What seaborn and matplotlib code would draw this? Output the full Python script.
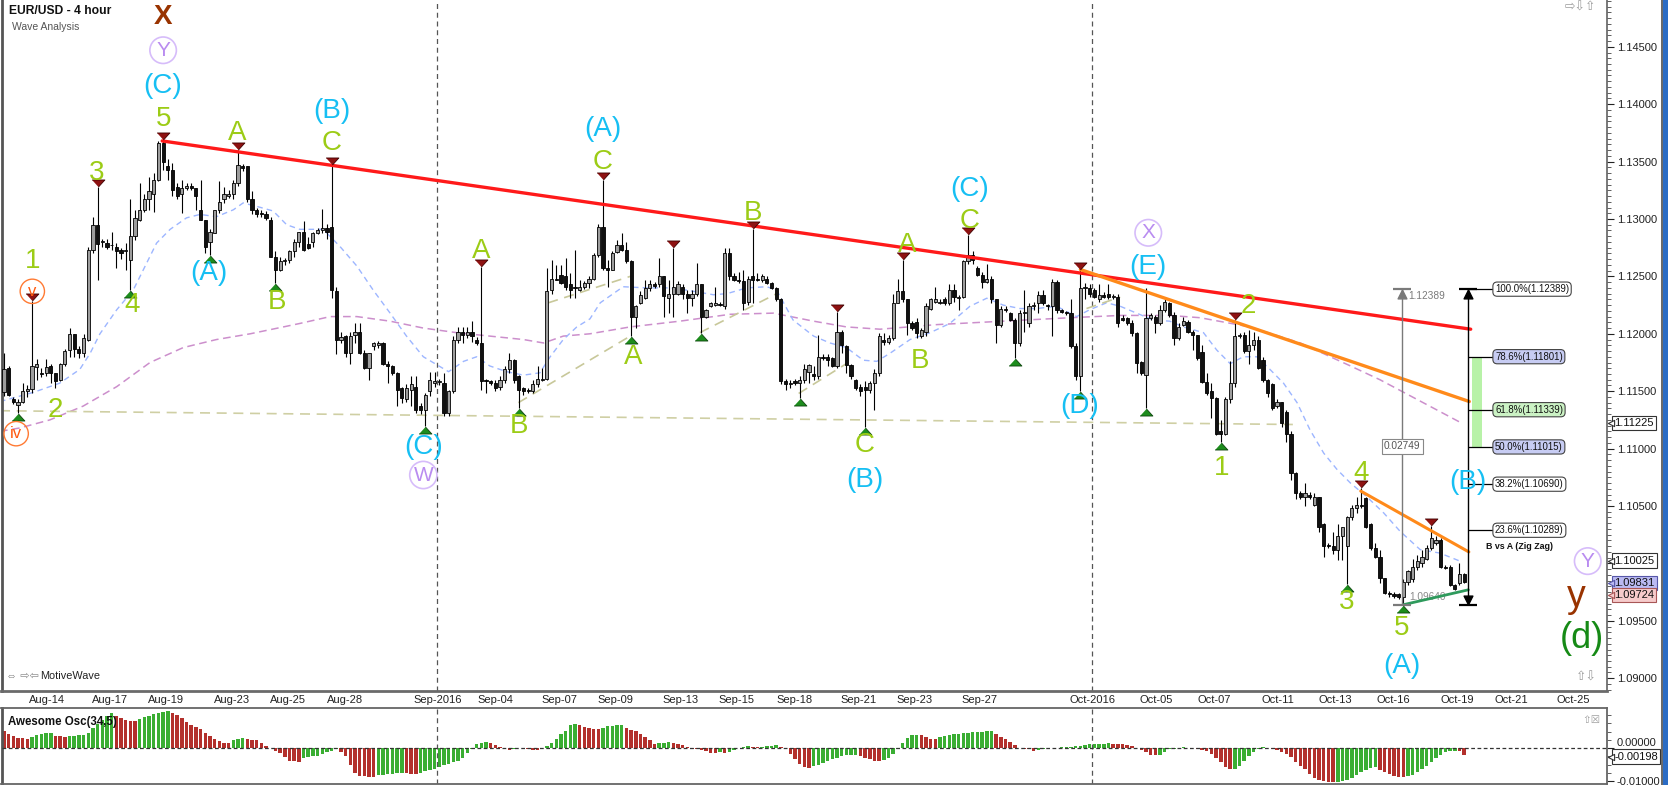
"""
EUR/USD 4 hour wave analysis chart, rebuilt with matplotlib + seaborn.
Candles, moving averages, Elliott wave labels, fib projection and
the Awesome Oscillator panel underneath.
"""

import numpy as np
import pandas as pd
import matplotlib
matplotlib.use("Agg")
import matplotlib.pyplot as plt
import matplotlib.transforms as mtransforms
from matplotlib.patches import Rectangle
from matplotlib.ticker import MultipleLocator
import seaborn as sns

sns.set_theme(style="white")
plt.rcParams["font.family"] = ["Liberation Sans", "DejaVu Sans"]

# ---------------------------------------------------------------- candles
opens = [
    1.1149, 1.1170, 1.1143, 1.1138, 1.1141, 1.1150, 1.1152, 1.1171, 1.1166, 1.1166,
    1.1172, 1.1166, 1.1160, 1.1174, 1.1186, 1.1200, 1.1187, 1.1183, 1.1195, 1.1273,
    1.1295, 1.1280, 1.1279, 1.1277, 1.1276, 1.1273, 1.1272, 1.1264, 1.1285, 1.1299,
    1.1308, 1.1317, 1.1322, 1.1334, 1.1366, 1.1346, 1.1343, 1.1328, 1.1322, 1.1327,
    1.1329, 1.1327, 1.1308, 1.1299, 1.1280, 1.1288, 1.1308, 1.1317, 1.1320, 1.1322,
    1.1331, 1.1346, 1.1346, 1.1317, 1.1308, 1.1305, 1.1304, 1.1299, 1.1267, 1.1256,
    1.1263, 1.1264, 1.1272, 1.1280,
    1.1289, 1.1278, 1.1280, 1.1288, 1.1290, 1.1292, 1.1293, 1.1237, 1.1195, 1.1198,
    1.1183, 1.1199, 1.1202, 1.1183, 1.1170, 1.1189, 1.1190, 1.1192, 1.1174, 1.1172,
    1.1166, 1.1153, 1.1143, 1.1151, 1.1154, 1.1137, 1.1134, 1.1150, 1.1157, 1.1158,
    1.1157, 1.1131, 1.1150, 1.1195, 1.1202, 1.1199, 1.1202, 1.1195, 1.1192, 1.1160,
    1.1159, 1.1157, 1.1154, 1.1160, 1.1169, 1.1177, 1.1163, 1.1153, 1.1151, 1.1150,
    1.1156, 1.1160, 1.1161, 1.1238, 1.1248, 1.1251, 1.1250, 1.1243, 1.1241, 1.1238, 1.1241, 1.1244,
    1.1248, 1.1269, 1.1293, 1.1257, 1.1256, 1.1271, 1.1277, 1.1273, 1.1263, 1.1215,
    1.1227, 1.1231, 1.1240, 1.1243, 1.1243, 1.1250, 1.1231, 1.1235, 1.1235, 1.1241,
    1.1235, 1.1231, 1.1235, 1.1243, 1.1215, 1.1224, 1.1225, 1.1226, 1.1224, 1.1270,
    1.1250, 1.1247, 1.1246, 1.1228, 1.1250, 1.1248, 1.1247, 1.1248, 1.1244, 1.1240,
    1.1230, 1.1159, 1.1156, 1.1159, 1.1157, 1.1160, 1.1167, 1.1165, 1.1163, 1.1180,
    1.1180, 1.1179, 1.1172, 1.1202, 1.1189, 1.1173, 1.1160, 1.1154, 1.1154, 1.1151, 1.1157, 1.1166,
    1.1195, 1.1193, 1.1196, 1.1227, 1.1237, 1.1230, 1.1209, 1.1210, 1.1198, 1.1202,
    1.1222, 1.1228, 1.1227, 1.1230, 1.1227, 1.1238, 1.1231, 1.1232, 1.1263, 1.1269,
    1.1257, 1.1251, 1.1245, 1.1248, 1.1230, 1.1208, 1.1222, 1.1218, 1.1212, 1.1192,
    1.1218, 1.1209, 1.1224, 1.1227, 1.1234, 1.1225, 1.1224, 1.1245, 1.1221, 1.1219,
    1.1218, 1.1189, 1.1163, 1.1240, 1.1240, 1.1238, 1.1230, 1.1234, 1.1235, 1.1232,
    1.1232, 1.1214, 1.1214, 1.1209, 1.1201, 1.1175, 1.1164, 1.1214, 1.1215, 1.1209, 1.1221, 1.1227,
    1.1216, 1.1196, 1.1208, 1.1210, 1.1202, 1.1199, 1.1184, 1.1158, 1.1150, 1.1144,
    1.1115, 1.1113, 1.1143, 1.1157, 1.1198, 1.1199, 1.1185, 1.1190, 1.1195, 1.1177,
    1.1160, 1.1156, 1.1137, 1.1141, 1.1132, 1.1113, 1.1079, 1.1061, 1.1058, 1.1060,
    1.1051, 1.1058, 1.1034, 1.1016, 1.1015, 1.1012, 1.1024, 1.1015, 1.1040, 1.1048,
    1.1051, 1.1057, 1.1034, 1.1013, 1.1006, 1.0987, 1.0974, 1.0973, 1.0973,
    1.0971, 1.0984, 1.0986, 1.0997, 1.1000, 1.1004, 1.1013, 1.1018, 1.1020, 1.0997,
    1.0997, 1.0981, 1.0983, 1.0991,
]
highs = [
    1.1183, 1.1172, 1.1145, 1.1143, 1.1157, 1.1155, 1.1229, 1.1178, 1.1170, 1.1178,
    1.1174, 1.1166, 1.1175, 1.1187, 1.1205, 1.1200, 1.1189, 1.1200, 1.1276, 1.1302,
    1.1328, 1.1283, 1.1283, 1.1289, 1.1279, 1.1275, 1.1279, 1.1317, 1.1308, 1.1331,
    1.1322, 1.1337, 1.1340, 1.1368, 1.1369, 1.1352, 1.1349, 1.1331, 1.1334, 1.1331,
    1.1331, 1.1327, 1.1334, 1.1299, 1.1291, 1.1308, 1.1333, 1.1328, 1.1325, 1.1334,
    1.1360, 1.1348, 1.1346, 1.1324, 1.1310, 1.1308, 1.1307, 1.1302, 1.1272, 1.1267,
    1.1266, 1.1273, 1.1283, 1.1289,
    1.1298, 1.1284, 1.1289, 1.1292, 1.1309, 1.1296, 1.1347, 1.1241, 1.1202, 1.1199,
    1.1202, 1.1209, 1.1209, 1.1186, 1.1183, 1.1193, 1.1194, 1.1193, 1.1176, 1.1173,
    1.1167, 1.1154, 1.1156, 1.1163, 1.1163, 1.1140, 1.1148, 1.1167, 1.1167, 1.1161,
    1.1166, 1.1151, 1.1198, 1.1206, 1.1206, 1.1206, 1.1211, 1.1197, 1.1258, 1.1161,
    1.1160, 1.1160, 1.1163, 1.1172, 1.1183, 1.1178, 1.1164, 1.1154, 1.1153, 1.1160,
    1.1172, 1.1170, 1.1257, 1.1264, 1.1260, 1.1260, 1.1266, 1.1253, 1.1273, 1.1247, 1.1246, 1.1250,
    1.1270, 1.1296, 1.1334, 1.1264, 1.1272, 1.1282, 1.1288, 1.1280, 1.1264, 1.1225,
    1.1237, 1.1247, 1.1247, 1.1245, 1.1266, 1.1250, 1.1247, 1.1275, 1.1246, 1.1243,
    1.1238, 1.1238, 1.1262, 1.1243, 1.1222, 1.1228, 1.1241, 1.1228, 1.1275, 1.1275,
    1.1253, 1.1254, 1.1256, 1.1250, 1.1291, 1.1253, 1.1252, 1.1250, 1.1245, 1.1241,
    1.1231, 1.1161, 1.1160, 1.1161, 1.1163, 1.1174, 1.1174, 1.1172, 1.1199, 1.1182,
    1.1182, 1.1180, 1.1219, 1.1203, 1.1190, 1.1174, 1.1161, 1.1156, 1.1159, 1.1159, 1.1169, 1.1201,
    1.1201, 1.1199, 1.1235, 1.1248, 1.1264, 1.1230, 1.1211, 1.1214, 1.1205, 1.1227,
    1.1231, 1.1241, 1.1230, 1.1232, 1.1243, 1.1243, 1.1234, 1.1264, 1.1286, 1.1272,
    1.1259, 1.1254, 1.1261, 1.1250, 1.1230, 1.1224, 1.1224, 1.1219, 1.1214, 1.1221,
    1.1238, 1.1227, 1.1228, 1.1237, 1.1238, 1.1226, 1.1248, 1.1247, 1.1222, 1.1220,
    1.1230, 1.1192, 1.1256, 1.1244, 1.1243, 1.1240, 1.1243, 1.1236, 1.1243, 1.1235,
    1.1235, 1.1216, 1.1215, 1.1212, 1.1202, 1.1176, 1.1240, 1.1218, 1.1216, 1.1225, 1.1230, 1.1228,
    1.1219, 1.1209, 1.1215, 1.1212, 1.1203, 1.1199, 1.1190, 1.1166, 1.1157, 1.1145,
    1.1125, 1.1145, 1.1176, 1.1212, 1.1201, 1.1202, 1.1203, 1.1202, 1.1198, 1.1180,
    1.1161, 1.1157, 1.1143, 1.1141, 1.1134, 1.1115, 1.1080, 1.1063, 1.1070, 1.1062,
    1.1061, 1.1058, 1.1035, 1.1018, 1.1027, 1.1034, 1.1032, 1.1041, 1.1051, 1.1058,
    1.1066, 1.1058, 1.1035, 1.1018, 1.1012, 1.0987, 1.0976, 1.0975, 1.0974,
    1.0986, 1.0994, 1.1004, 1.1007, 1.1012, 1.1016, 1.1033, 1.1024, 1.1022, 1.0999,
    1.0999, 1.0982, 1.1000, 1.0992,
]
lows = [
    1.1146, 1.1146, 1.1139, 1.1131, 1.1140, 1.1145, 1.1148, 1.1160, 1.1162, 1.1163,
    1.1157, 1.1153, 1.1159, 1.1172, 1.1180, 1.1180, 1.1179, 1.1180, 1.1194, 1.1270,
    1.1247, 1.1276, 1.1274, 1.1273, 1.1257, 1.1265, 1.1256, 1.1238, 1.1282, 1.1298,
    1.1306, 1.1308, 1.1306, 1.1333, 1.1343, 1.1334, 1.1320, 1.1317, 1.1305, 1.1325,
    1.1325, 1.1308, 1.1299, 1.1270, 1.1269, 1.1288, 1.1305, 1.1314, 1.1318, 1.1317,
    1.1329, 1.1342, 1.1315, 1.1304, 1.1302, 1.1302, 1.1299, 1.1267, 1.1244, 1.1255,
    1.1260, 1.1262, 1.1267, 1.1276,
    1.1272, 1.1274, 1.1276, 1.1287, 1.1288, 1.1283, 1.1231, 1.1182, 1.1192, 1.1180,
    1.1174, 1.1192, 1.1182, 1.1169, 1.1160, 1.1186, 1.1188, 1.1173, 1.1157, 1.1164,
    1.1137, 1.1140, 1.1141, 1.1137, 1.1131, 1.1130, 1.1120, 1.1146, 1.1154, 1.1155,
    1.1128, 1.1128, 1.1148, 1.1192, 1.1192, 1.1196, 1.1193, 1.1190, 1.1151, 1.1148,
    1.1155, 1.1150, 1.1151, 1.1157, 1.1166, 1.1157, 1.1135, 1.1147, 1.1148, 1.1148,
    1.1154, 1.1159, 1.1160, 1.1235, 1.1247, 1.1243, 1.1238, 1.1231, 1.1231, 1.1237, 1.1239, 1.1240,
    1.1247, 1.1267, 1.1256, 1.1241, 1.1256, 1.1270, 1.1272, 1.1262, 1.1198, 1.1205,
    1.1226, 1.1230, 1.1237, 1.1240, 1.1241, 1.1215, 1.1218, 1.1215, 1.1234, 1.1230,
    1.1218, 1.1224, 1.1233, 1.1201, 1.1214, 1.1223, 1.1224, 1.1224, 1.1222, 1.1247,
    1.1246, 1.1244, 1.1221, 1.1225, 1.1227, 1.1246, 1.1245, 1.1243, 1.1239, 1.1229,
    1.1156, 1.1151, 1.1153, 1.1155, 1.1144, 1.1157, 1.1157, 1.1160, 1.1161, 1.1177,
    1.1172, 1.1171, 1.1170, 1.1183, 1.1166, 1.1161, 1.1151, 1.1146, 1.1119, 1.1148, 1.1134, 1.1163,
    1.1190, 1.1191, 1.1195, 1.1227, 1.1228, 1.1199, 1.1203, 1.1196, 1.1196, 1.1198,
    1.1221, 1.1227, 1.1226, 1.1225, 1.1225, 1.1228, 1.1221, 1.1231, 1.1261, 1.1261,
    1.1250, 1.1240, 1.1244, 1.1227, 1.1192, 1.1206, 1.1219, 1.1211, 1.1179, 1.1189,
    1.1202, 1.1206, 1.1221, 1.1218, 1.1225, 1.1221, 1.1198, 1.1218, 1.1218, 1.1216,
    1.1188, 1.1160, 1.1150, 1.1230, 1.1232, 1.1231, 1.1228, 1.1231, 1.1230, 1.1230,
    1.1206, 1.1211, 1.1208, 1.1198, 1.1166, 1.1164, 1.1135, 1.1212, 1.1201, 1.1208, 1.1219, 1.1215,
    1.1190, 1.1195, 1.1207, 1.1201, 1.1186, 1.1177, 1.1157, 1.1147, 1.1127, 1.1112,
    1.1106, 1.1112, 1.1140, 1.1154, 1.1196, 1.1183, 1.1174, 1.1186, 1.1169, 1.1158,
    1.1145, 1.1134, 1.1135, 1.1119, 1.1106, 1.1073, 1.1056, 1.1056, 1.1050, 1.1056,
    1.1050, 1.1027, 1.1006, 1.1013, 1.1008, 1.1003, 1.1003, 1.0982, 1.1038, 1.1044,
    1.1048, 1.1031, 1.1012, 1.1005, 1.0983, 1.0973, 1.0971, 1.0970, 1.0969,
    1.0964, 1.0981, 1.0984, 1.0994, 1.0997, 1.1003, 1.1012, 1.1016, 1.0996, 1.0995,
    1.0980, 1.0977, 1.0981, 1.0983,
]
closes = [
    1.1169, 1.1147, 1.1141, 1.1141, 1.1150, 1.1152, 1.1172, 1.1174, 1.1165, 1.1171,
    1.1166, 1.1159, 1.1174, 1.1185, 1.1200, 1.1187, 1.1183, 1.1196, 1.1273, 1.1295,
    1.1278, 1.1281, 1.1276, 1.1277, 1.1272, 1.1270, 1.1273, 1.1285, 1.1301, 1.1308,
    1.1317, 1.1324, 1.1334, 1.1366, 1.1350, 1.1343, 1.1325, 1.1320, 1.1327, 1.1329,
    1.1327, 1.1320, 1.1299, 1.1276, 1.1289, 1.1308, 1.1315, 1.1322, 1.1322, 1.1331,
    1.1347, 1.1344, 1.1317, 1.1308, 1.1304, 1.1304, 1.1301, 1.1267, 1.1256, 1.1263,
    1.1264, 1.1272, 1.1280, 1.1289,
    1.1273, 1.1275, 1.1288, 1.1290, 1.1292, 1.1289, 1.1238, 1.1195, 1.1197, 1.1183,
    1.1198, 1.1202, 1.1183, 1.1170, 1.1183, 1.1192, 1.1192, 1.1174, 1.1172, 1.1166,
    1.1151, 1.1144, 1.1153, 1.1156, 1.1134, 1.1134, 1.1147, 1.1160, 1.1159, 1.1159,
    1.1131, 1.1150, 1.1195, 1.1202, 1.1199, 1.1202, 1.1198, 1.1192, 1.1159, 1.1159,
    1.1157, 1.1153, 1.1160, 1.1169, 1.1177, 1.1160, 1.1151, 1.1150, 1.1150, 1.1156,
    1.1161, 1.1161, 1.1237, 1.1248, 1.1247, 1.1244, 1.1241, 1.1238, 1.1240, 1.1241, 1.1244, 1.1248,
    1.1269, 1.1293, 1.1257, 1.1256, 1.1270, 1.1277, 1.1273, 1.1263, 1.1215, 1.1224,
    1.1234, 1.1240, 1.1243, 1.1242, 1.1250, 1.1233, 1.1235, 1.1241, 1.1243, 1.1235,
    1.1231, 1.1235, 1.1243, 1.1215, 1.1221, 1.1227, 1.1227, 1.1225, 1.1270, 1.1250,
    1.1247, 1.1246, 1.1227, 1.1248, 1.1247, 1.1247, 1.1250, 1.1244, 1.1240, 1.1230,
    1.1159, 1.1156, 1.1157, 1.1157, 1.1160, 1.1169, 1.1173, 1.1163, 1.1180, 1.1179,
    1.1177, 1.1172, 1.1202, 1.1190, 1.1173, 1.1163, 1.1153, 1.1150, 1.1151, 1.1157, 1.1166, 1.1198,
    1.1193, 1.1196, 1.1227, 1.1237, 1.1230, 1.1209, 1.1205, 1.1201, 1.1203, 1.1224,
    1.1230, 1.1230, 1.1228, 1.1227, 1.1238, 1.1232, 1.1232, 1.1263, 1.1269, 1.1264,
    1.1251, 1.1245, 1.1248, 1.1230, 1.1208, 1.1222, 1.1221, 1.1212, 1.1192, 1.1218,
    1.1219, 1.1224, 1.1225, 1.1234, 1.1227, 1.1224, 1.1245, 1.1221, 1.1219, 1.1218,
    1.1189, 1.1163, 1.1240, 1.1241, 1.1235, 1.1232, 1.1234, 1.1232, 1.1232, 1.1233,
    1.1209, 1.1212, 1.1209, 1.1201, 1.1175, 1.1166, 1.1214, 1.1216, 1.1209, 1.1221, 1.1228, 1.1216,
    1.1196, 1.1206, 1.1211, 1.1202, 1.1199, 1.1179, 1.1158, 1.1148, 1.1144, 1.1113,
    1.1113, 1.1143, 1.1157, 1.1198, 1.1199, 1.1185, 1.1190, 1.1195, 1.1170, 1.1160,
    1.1148, 1.1135, 1.1141, 1.1122, 1.1113, 1.1079, 1.1061, 1.1058, 1.1061, 1.1058,
    1.1058, 1.1032, 1.1015, 1.1015, 1.1012, 1.1024, 1.1032, 1.1040, 1.1048, 1.1051,
    1.1050, 1.1032, 1.1013, 1.1006, 1.0987, 1.0974, 1.0973, 1.0972, 1.0971,
    1.0984, 1.0993, 1.0997, 1.1002, 1.1006, 1.1013, 1.1022, 1.1020, 1.0997, 1.0996,
    1.0981, 1.0978, 1.0991, 1.0984,
]

# Awesome Oscillator (34,5), one value per candle, in units of 0.0001
ao_e4 = [
    52, 41, 36, 30, 29, 27, 33, 40, 43, 44, 45, 36, 35, 33, 37, 37, 38, 40, 46, 60,
    72, 85, 97, 105, 97, 90, 84, 82, 81, 87, 94, 97, 104, 107, 110, 111, 106, 100, 92, 79,
    70, 63, 58, 46, 36, 27, 22, 16, 15, 23, 28, 30, 27, 25, 23, 14, 5, 1, -8, -16,
    -27, -38, -40, -41, -31, -27, -25, -23, -18, -12, -8, -3, -13, -24, -51, -75, -85, -86, -87, -88,
    -83, -81, -79, -78, -76, -75, -76, -78, -79, -75, -70, -68, -64, -59, -53, -49, -43, -38, -29, -16,
    -2, 12, 16, 19, 14, 9, 3, -3, -5, -2, -1, -1, -4, -5, -6, 0, 5, 14, 27, 41,
    53, 70, 73, 70, 64, 61, 59, 57, 62, 67, 68, 69, 69, 60, 56, 52, 43, 33, 23, 13,
    14, 16, 17, 14, 11, 8, 3, -2, -4, -6, -10, -15, -16, -12, -15, -12, -5, 0, 4, 5,
    4.5, 3, 4, 5, 7, 8, 4, -4, -17, -32, -47, -57, -60, -55, -50, -45, -40, -34, -30, -25,
    -22, -21, -20, -24, -30, -34, -38, -40, -37, -30, -17, -4, 16, 31, 38, 39, 38, 32, 28, 27,
    33, 36, 38, 41, 43, 44, 45, 47, 49, 50, 51, 52, 42, 33, 26, 18, 8, 0, -2, -4,
    -8, -6, -2, 0, -1, 0, 2, 2, 3, 5, 7, 9, 11, 12, 13, 13.5,
    14, 13, 12, 11, 9, 5, 0, -5, -13, -21, -22, -21, -13, -4, -2, 1, 3, 1, 0, -3,
    -5, -10, -19, -30, -43, -57, -65, -63, -54, -38, -24, -11, -3, 2, 0, -2, -5, -11, -19, -27,
    -41, -54, -65, -79, -90, -98, -101, -103, -104, -102, -101, -98, -90, -82, -74, -67, -60, -59, -68, -74,
    -79, -85, -88, -89, -85, -81, -74, -65, -54, -43, -30, -21, -13, -10, -8, -10, -20,
]

# moving averages, read at sample bars
ma_fast_bars = [
    -0.85, 6.3, 11.9, 16.2, 18.4, 20.5, 24.1, 27.6, 29.8, 32.6, 35.5, 39.0, 41.9, 45.4, 49.0,
    51.1, 54.0, 57.5, 60.4, 63.2, 68.2, 71.8, 75.4, 78.9, 82.5, 86.0, 89.6, 92.5, 95.0, 98.2,
    101.0, 103.8, 107.4, 111.0, 114.5, 116.7, 119.5, 122.4, 125.2, 127.4, 132.3, 137.3, 141.6,
    145.9, 151.6, 154.5, 158.7, 163.0, 165.1, 168.6, 173.0, 176.5, 180.0, 183.6, 186.5, 189.3,
    193.6, 197.9, 202.1, 206.4, 210.0, 213.5, 217.1, 220.7, 224.9, 229.2, 232.0, 235.6, 238.5,
    242.0, 245.6, 249.1, 252.0, 256.3, 259.1, 262.0, 264.8, 267.7, 270.5, 273.4, 276.3, 279.1,
    282.0, 284.8, 287.7, 291.2, 294.8, 298.3, 302.6, 306.8, 311.1,
]
ma_fast = [
    1.1141, 1.1149, 1.1157, 1.1169, 1.1183, 1.1200, 1.1221, 1.1238, 1.1256, 1.1279, 1.1291,
    1.1301, 1.1304, 1.1302, 1.1308, 1.1314, 1.1311, 1.1307, 1.1295, 1.1291, 1.1291, 1.1276,
    1.1259, 1.1238, 1.1218, 1.1198, 1.1180, 1.1173, 1.1167, 1.1176, 1.1180, 1.1172, 1.1167,
    1.1164, 1.1166, 1.1180, 1.1195, 1.1206, 1.1213, 1.1227, 1.1241, 1.1240, 1.1240, 1.1238,
    1.1234, 1.1235, 1.1240, 1.1241, 1.1238, 1.1212, 1.1198, 1.1192, 1.1188, 1.1177, 1.1176,
    1.1183, 1.1195, 1.1201, 1.1209, 1.1224, 1.1231, 1.1225, 1.1222, 1.1222, 1.1224, 1.1215,
    1.1221, 1.1227, 1.1224, 1.1218, 1.1212, 1.1211, 1.1206, 1.1201, 1.1186, 1.1174, 1.1180,
    1.1180, 1.1169, 1.1157, 1.1140, 1.1116, 1.1096, 1.1082, 1.1070, 1.1058, 1.1044, 1.1028,
    1.1012, 1.1009, 1.1002,
]
ma_slow_bars = [
    -0.85, 3.4, 9.8, 16.9, 24.1, 31.2, 38.3, 45.4, 52.6, 59.7, 63.2, 69.7, 75.4, 82.5, 89.6,
    96.7, 103.8, 111.0, 115.3, 119.5, 125.2, 133.8, 144.4, 155.2, 164.4, 173.0, 180.0, 187.2,
    199.3, 213.5, 227.8, 238.5, 249.1, 255.6, 266.2, 277.0, 287.7, 294.0, 311.1,
]
ma_slow = [
    1.1115, 1.1118, 1.1125, 1.1137, 1.1154, 1.1175, 1.1188, 1.1195, 1.1200, 1.1206, 1.1209,
    1.1215, 1.1215, 1.1211, 1.1205, 1.1201, 1.1198, 1.1195, 1.1192, 1.1198, 1.1200, 1.1206,
    1.1211, 1.1217, 1.1218, 1.1211, 1.1206, 1.1204, 1.1208, 1.1211, 1.1214, 1.1216, 1.1216,
    1.1214, 1.1206, 1.1192, 1.1172, 1.1160, 1.1123,
]

# swing points marked with small triangles
pivot_high_bars = [6, 20, 34, 50, 70, 102, 128, 143, 160, 178, 192, 206, 230, 263, 290, 305]
pivot_low_bars = [3, 27, 44, 58, 90, 110, 134, 149, 170, 184, 216, 230, 244, 260, 287, 299]

# time axis
date_labels = [
    "Aug-14", "Aug-17", "Aug-19", "Aug-23", "Aug-25", "Aug-28", "Sep-2016", "Sep-04",
    "Sep-07", "Sep-09", "Sep-13", "Sep-15", "Sep-18", "Sep-21", "Sep-23", "Sep-27",
    "Oct-2016", "Oct-05", "Oct-07", "Oct-11", "Oct-13", "Oct-16", "Oct-19", "Oct-21", "Oct-25",
]
date_bars = [
    9.1, 22.6, 34.6, 48.7, 60.6, 72.9, 92.6, 104.9, 118.6, 130.6, 144.6, 156.6, 168.9,
    182.5, 194.5, 208.5, 232.5, 246.2, 258.5, 272.1, 284.4, 296.8, 310.5, 322.0, 335.3,
]
month_bars = [92.6, 232.5]

price_ticks = [1.090, 1.095, 1.100, 1.105, 1.110, 1.115, 1.120, 1.125, 1.130, 1.135, 1.140, 1.145]

# trend lines (bar, price end points)
red_line_bars, red_line_prices = [33.8, 313.4], [1.1368, 1.1204]
orange_a_bars, orange_a_prices = [230.0, 313.1], [1.1256, 1.1141]
orange_b_bars, orange_b_prices = [289.9, 313.0], [1.1063, 1.1010]
green_line_bars, green_line_prices = [299.0, 312.9], [1.0964, 1.0977]
base_line_bars, base_line_prices = [-0.85, 275.4], [1.1133, 1.1121]
channel_bars = [(109.9, 133.8), (116.3, 133.8), (148.7, 165.1), (169.8, 180.0), (231.3, 238.5)]
channel_prices = [(1.1140, 1.1198), (1.1227, 1.1250), (1.1201, 1.1235), (1.1148, 1.1174), (1.1222, 1.1232)]

# wave count labels: text, bar, price, style
wave_labels = [
    ("X", 34.0, 1.1476, "brown"), ("Y", 34.0, 1.1447, "purple_ring"),
    ("(C)", 34.0, 1.1416, "cyan"), ("5", 34.0, 1.1387, "lime"),
    ("3", 19.8, 1.1340, "lime"), ("1", 6.05, 1.1263, "lime"),
    ("v", 6.05, 1.1237, "orange_ring"), ("iv", 2.6, 1.1113, "orange_ring"),
    ("2", 10.9, 1.1134, "lime"), ("4", 27.3, 1.1225, "lime"),
    ("A", 49.9, 1.1375, "lime"), ("(A)", 43.7, 1.1253, "cyan"),
    ("B", 58.3, 1.1228, "lime"), ("(B)", 70.1, 1.1394, "cyan"),
    ("C", 70.1, 1.1366, "lime"), ("(C)", 89.6, 1.1101, "cyan"),
    ("W", 89.6, 1.1077, "purple_ring"), ("A", 101.9, 1.1272, "lime"),
    ("B", 110.1, 1.1120, "lime"), ("(A)", 128.0, 1.1378, "cyan"),
    ("C", 128.0, 1.1350, "lime"), ("A", 134.5, 1.1180, "lime"),
    ("B", 160.1, 1.1305, "lime"), ("C", 184.0, 1.1103, "lime"),
    ("(B)", 184.0, 1.1073, "cyan"), ("A", 192.9, 1.1277, "lime"),
    ("B", 195.7, 1.1176, "lime"), ("(C)", 206.4, 1.1326, "cyan"),
    ("C", 206.4, 1.1298, "lime"), ("(D)", 229.9, 1.1137, "cyan"),
    ("X", 244.5, 1.1288, "purple_ring"), ("(E)", 244.5, 1.1258, "cyan"),
    ("1", 260.2, 1.1083, "lime"), ("2", 265.9, 1.1224, "lime"),
    ("3", 286.8, 1.0966, "lime"), ("4", 289.9, 1.1079, "lime"),
    ("5", 298.7, 1.0944, "lime"), ("(A)", 298.7, 1.0911, "cyan"),
    ("(B)", 312.9, 1.1071, "cyan"), ("Y", 338.4, 1.1002, "purple_ring"),
    ("y", 336.0, 1.0971, "brown_big"), ("(d)", 337.1, 1.0935, "green_big"),
]

# B vs A projection
fib_low, fib_high = 1.09640, 1.12389
fib_ratios = [1.0, 0.786, 0.618, 0.5, 0.382, 0.236]
fib_fills = ["white", "#c7ccf3", "#cbf2c4", "#c7ccf3", "white", "white"]

# value tags on the price scale
tag_values = [1.11225, 1.10025, 1.09831, 1.09724]
tag_fills = ["white", "white", "#babaf2", "#f6cbcb"]
tag_edges = ["#333333", "#333333", "#5656a8", "#a85656"]
ao_tag_value = -0.00198

# ---------------------------------------------------------------- layout
W, H = 1668, 785
BAR_X0, BAR_STEP = 4.0, 4.68          # pixel x of the first bar, pixels per bar
PX_PER_PRICE = 11480.0                # vertical pixels per 1.0 of price
PRICE_TOP = 1.145 + 46.8 / PX_PER_PRICE
AO_PX = 3300.0

LABEL_STYLES = {
    "lime": dict(color="#9ccc16", fontsize=20),
    "cyan": dict(color="#16bff3", fontsize=20),
    "brown": dict(color="#993300", fontsize=20, fontweight="bold"),
    "brown_big": dict(color="#993300", fontsize=27),
    "green_big": dict(color="#168a16", fontsize=26),
    "purple_ring": dict(color="#b98cf0", fontsize=15,
                        bbox=dict(boxstyle="circle,pad=0.18", fc="none", ec="#d6bcfa", lw=1.2)),
    "orange_ring": dict(color="#ff5a10", fontsize=12,
                        bbox=dict(boxstyle="circle,pad=0.28", fc="none", ec="#ff7a33", lw=1.0)),
}


def bar_at(px):
    """Convert a pixel x position to bar units."""
    return (px - BAR_X0) / BAR_STEP


def axis_tag(axis, value, text, fc, ec):
    """Draw a value tag on the right hand scale of an axis."""
    trans = axis.get_yaxis_transform()
    axis.text(1.0045, value, text, transform=trans, ha="left", va="center", fontsize=8,
              color="#111111", bbox=dict(boxstyle="square,pad=0.2", fc=fc, ec=ec, lw=0.8),
              clip_on=False, zorder=20)
    axis.scatter([1.0022], [value], marker="<", s=20, color=fc, edgecolors=ec,
                 linewidths=0.8, transform=trans, clip_on=False, zorder=21)


def draw_price_panel(fig, ax):
    o, h, l, c = map(np.asarray, (opens, highs, lows, closes))
    bars = np.arange(len(c))

    # moving averages and guide lines sit behind the candles
    sns.lineplot(x=ma_slow_bars, y=ma_slow, ax=ax, color="#cc8fcc", linewidth=1.1,
                 linestyle=(0, (5, 3)), sort=False, zorder=2)
    sns.lineplot(x=ma_fast_bars, y=ma_fast, ax=ax, color="#9db6ff", linewidth=1.0,
                 linestyle=(0, (4, 3)), sort=False, zorder=2)
    ax.plot(base_line_bars, base_line_prices, color="#cfcfa4", lw=1.2, ls=(0, (6, 4)), zorder=2)
    for xb, pr in zip(channel_bars, channel_prices):
        ax.plot(xb, pr, color="#c8c89a", lw=1.2, ls=(0, (6, 4)), zorder=2)

    for b in month_bars:
        ax.axvline(b, color="#555555", lw=0.9, ls=(0, (4, 3)), zorder=1)

    # candles
    ax.vlines(bars, l, h, color="black", lw=0.8, zorder=4)
    bull = c >= o
    ax.bar(bars, np.maximum(np.abs(c - o), 0.00004), bottom=np.minimum(o, c), width=0.68,
           color=np.where(bull, "#9d9d9d", "#111111"), edgecolor="black", linewidth=0.6, zorder=5)

    # trend lines
    ax.plot(red_line_bars, red_line_prices, color="#ff1a1a", lw=2.4, zorder=6)
    ax.plot(orange_a_bars, orange_a_prices, color="#ff8a1a", lw=2.4, zorder=6)
    ax.plot(orange_b_bars, orange_b_prices, color="#ff8a1a", lw=2.2, zorder=6)
    ax.plot(green_line_bars, green_line_prices, color="#2e9a5c", lw=2.0, zorder=6)

    # swing triangles
    down_tri = [(-1, 0.55), (1, 0.55), (0, -0.55)]
    up_tri = [(-1, -0.55), (1, -0.55), (0, 0.55)]
    above = mtransforms.offset_copy(ax.transData, fig=fig, x=0, y=4, units="dots")
    below = mtransforms.offset_copy(ax.transData, fig=fig, x=0, y=-4, units="dots")
    ax.scatter(pivot_high_bars, h[pivot_high_bars], marker=down_tri, s=85, c="#8e1212",
               edgecolors="#3d0000", linewidths=0.6, transform=above, zorder=7)
    ax.scatter(pivot_low_bars, l[pivot_low_bars], marker=up_tri, s=85, c="#1d8c1d",
               edgecolors="#0b430b", linewidths=0.6, transform=below, zorder=7)

    # fib projection
    grey_bar = bar_at(1402.3)
    fib_bar = bar_at(1468.3)
    label_bar = bar_at(1495)
    cap = 1.9
    levels = [fib_low + r * (fib_high - fib_low) for r in fib_ratios]

    ax.vlines(grey_bar, fib_low, fib_high, color="#7a7a7a", lw=1.0, zorder=6)
    ax.hlines([fib_low, fib_high], grey_bar - cap, grey_bar + cap, color="#7a7a7a", lw=1.6, zorder=6)
    ax.scatter([grey_bar], [fib_high], marker="^", s=40, color="#7a7a7a",
               transform=mtransforms.offset_copy(ax.transData, fig=fig, y=-5, units="dots"), zorder=6)
    ax.text(grey_bar + 1.3, fib_high - 0.0006, f"{fib_high:.5f}", color="#7a7a7a", fontsize=7.3,
            va="center", ha="left", zorder=6)
    ax.text(grey_bar, 1.1102, f"{fib_high - fib_low:.5f}", color="#555555", fontsize=7.3,
            ha="center", va="center", zorder=9,
            bbox=dict(boxstyle="square,pad=0.25", fc="white", ec="#888888", lw=0.8))
    ax.text(grey_bar + 1.5, fib_low + 0.0007, f"{fib_low:.5f}", color="#8a8a8a", fontsize=7.3,
            va="center", ha="left", zorder=3)

    ax.add_patch(Rectangle((bar_at(1471.7), levels[3]), bar_at(1481.7) - bar_at(1471.7),
                           levels[1] - levels[3], fc="#b8f2a8", ec="none", zorder=5))
    ax.vlines(fib_bar, fib_low, fib_high, color="black", lw=1.0, zorder=7)
    ax.hlines([fib_low, fib_high], fib_bar - cap, fib_bar + cap, color="black", lw=1.6, zorder=7)
    ax.scatter([fib_bar], [fib_high], marker="^", s=40, color="black",
               transform=mtransforms.offset_copy(ax.transData, fig=fig, y=-5, units="dots"), zorder=7)
    ax.scatter([fib_bar], [fib_low], marker="v", s=40, color="black",
               transform=mtransforms.offset_copy(ax.transData, fig=fig, y=5, units="dots"), zorder=7)
    for r, lev, fc in zip(fib_ratios, levels, fib_fills):
        ax.hlines(lev, fib_bar, label_bar, color="black", lw=0.9, zorder=7)
        ax.text(label_bar, lev, f"{r * 100:.1f}%({lev + 1e-9:.5f})", ha="left", va="center",
                fontsize=6.9, color="#111111", zorder=9,
                bbox=dict(boxstyle="round,pad=0.22,rounding_size=0.45", fc=fc, ec="#444444", lw=0.8))
    ax.text(bar_at(1486), 1.1015, "B vs A (Zig Zag)", fontsize=6.4, fontweight="bold",
            ha="left", va="center", color="#111111", zorder=9)

    # wave labels
    for text, bar, price, kind in wave_labels:
        ax.text(bar, price, text, ha="center", va="center", zorder=10, **LABEL_STYLES[kind])

    # axes and scales; a tick label that sits under a value tag stays hidden, as on the terminal
    ax.set_xlim(bar_at(1.5), bar_at(1607))
    ax.set_ylim(PRICE_TOP - 691 / PX_PER_PRICE, PRICE_TOP)
    ax.yaxis.tick_right()
    ax.set_yticks(price_ticks)
    covered = [min(abs(v - t) for t in tag_values) * PX_PER_PRICE < 12 for v in price_ticks]
    ax.set_yticklabels(["" if hide else f"{v:.5f}" for v, hide in zip(price_ticks, covered)])
    ax.yaxis.set_minor_locator(MultipleLocator(0.0005))
    ax.tick_params(axis="y", which="major", direction="out", length=5, width=0.8, pad=2,
                   labelsize=8, colors="#222222")
    ax.tick_params(axis="y", which="minor", direction="out", length=3, width=0.6, colors="#444444")
    ax.set_xticks(date_bars)
    ax.set_xticklabels(date_labels)
    ax.tick_params(axis="x", direction="in", length=4, width=1.0, pad=3, labelsize=8,
                   colors="#222222")
    ax.spines["top"].set_visible(False)
    ax.spines["left"].set_color("#555555")
    ax.spines["left"].set_linewidth(2)
    ax.spines["bottom"].set_color("#6a6a6a")
    ax.spines["bottom"].set_linewidth(2)
    ax.spines["right"].set_color("#555555")
    ax.spines["right"].set_linewidth(1.1)

    for value, fc, ec in zip(tag_values, tag_fills, tag_edges):
        axis_tag(ax, value, f"{value:.5f}", fc, ec)


def draw_ao_panel(fig, ax_ao, xlim):
    ao = np.asarray(ao_e4, dtype=float) / 1e4
    rising = np.r_[False, ao[1:] >= ao[:-1]]
    ao_df = pd.DataFrame({
        "bar": np.arange(len(ao)),
        "ao": ao,
        "trend": np.where(rising, "up", "down"),
    })
    sns.barplot(data=ao_df, x="bar", y="ao", hue="trend",
                palette={"up": "#3aae33", "down": "#b3302c"}, dodge=False, native_scale=True,
                width=0.74, errorbar=None, legend=False, saturation=1, linewidth=0, ax=ax_ao)
    ax_ao.axhline(0, color="#333333", lw=0.9, ls=(0, (3, 2)), zorder=5)
    for b in month_bars:
        ax_ao.axvline(b, color="#555555", lw=0.9, ls=(0, (4, 3)), zorder=1)

    ax_ao.set_xlim(*xlim)
    ax_ao.set_ylim(-36 / AO_PX, 40 / AO_PX)
    ax_ao.set_xticks([])
    ax_ao.set_xlabel("")
    ax_ao.set_ylabel("")
    ax_ao.yaxis.tick_right()
    ax_ao.set_yticks([-0.01, 0.0])
    ax_ao.set_yticklabels(["-0.01000", "0.00000"])
    ax_ao.yaxis.set_minor_locator(MultipleLocator(0.0025))
    ax_ao.tick_params(axis="y", which="major", direction="out", length=5, width=0.8, pad=2,
                      labelsize=8, colors="#222222")
    ax_ao.tick_params(axis="y", which="minor", direction="out", length=3, width=0.6,
                      colors="#444444")
    # the zero label peeks out just above the value tag
    zero_label = ax_ao.get_yticklabels()[1]
    zero_label.set_transform(zero_label.get_transform()
                             + mtransforms.ScaledTranslation(0, 4 / 72, fig.dpi_scale_trans))
    for side in ["top", "bottom", "right"]:
        ax_ao.spines[side].set_color("#666666")
        ax_ao.spines[side].set_linewidth(1.3)
    ax_ao.spines["left"].set_color("#555555")
    ax_ao.spines["left"].set_linewidth(2)
    axis_tag(ax_ao, ao_tag_value - 0.0006, f"{ao_tag_value:.5f}", "white", "#333333")


def main():
    fig = plt.figure(figsize=(W / 100, H / 100), dpi=100)
    fig.patch.set_facecolor("white")
    left, right = 1.5, 1607.0
    ax = fig.add_axes([left / W, 1 - 691 / H, (right - left) / W, 691 / H])
    ax_ao = fig.add_axes([left / W, 1 - 784 / H, (right - left) / W, 76 / H])

    draw_price_panel(fig, ax)
    draw_ao_panel(fig, ax_ao, ax.get_xlim())

    # header and panel texts
    fig.text(9 / W, 1 - 11 / H, "EUR/USD - 4 hour", fontsize=8.7, fontweight="bold",
             color="#111111", va="center")
    fig.text(12 / W, 1 - 27 / H, "Wave Analysis", fontsize=7.5, color="#555555", va="center")
    fig.text(6 / W, 1 - 676 / H, "⇔ ⇨⇦", fontsize=8, color="#888888", va="center")
    fig.text(40 / W, 1 - 676 / H, "MotiveWave", fontsize=7.8, color="#222222", va="center")
    fig.text(8 / W, 1 - 722 / H, "Awesome Osc(34,5)", fontsize=8.3, fontweight="bold",
             color="#111111", va="center")
    fig.text(1565 / W, 1 - 8 / H, "⇨⇩⇧", fontsize=9, color="#9a9a9a", va="center")
    fig.text(1576 / W, 1 - 678 / H, "⇧⇩", fontsize=9, color="#9a9a9a", va="center")
    fig.text(1582 / W, 1 - 720 / H, "⇧☒", fontsize=7.5, color="#9a9a9a", va="center")

    # window frame on the right
    fig.add_artist(Rectangle((1661 / W, 0), 2 / W, 1, transform=fig.transFigure,
                             fc="#6a6a6a", ec="none"))
    fig.add_artist(Rectangle((1663 / W, 0), 5 / W, 1, transform=fig.transFigure,
                             fc="#2b6cc4", ec="none"))

    fig.savefig("out.png", dpi=100)
    plt.close(fig)


if __name__ == "__main__":
    main()
